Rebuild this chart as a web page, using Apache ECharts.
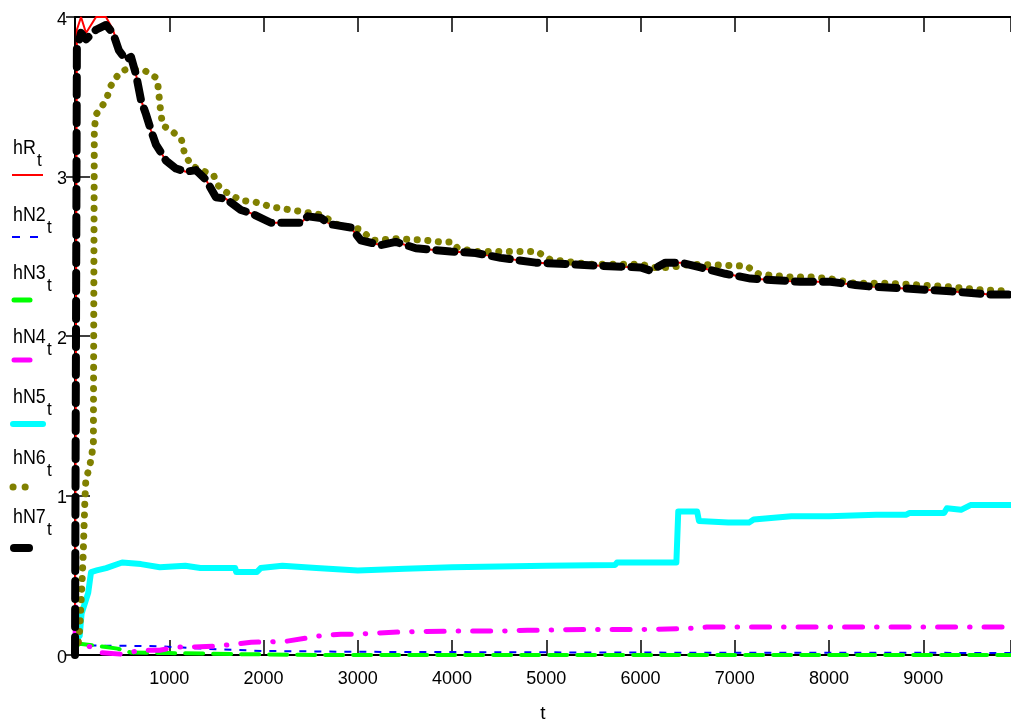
<!DOCTYPE html>
<html>
<head>
<meta charset="utf-8">
<script src="https://cdn.jsdelivr.net/npm/echarts@6/dist/echarts.min.js"></script>
<style>
  html, body { margin: 0; padding: 0; background: #fff; }
  #main { width: 1011px; height: 722px; }
</style>
</head>
<body>
<div id="main"></div>
<script>
// time points shared by hR and hN7
var tMain = [0, 20, 64, 117, 223, 329, 403, 466, 541, 594, 647, 700, 753, 806, 859, 965, 1071, 1177, 1283, 1389,
  1495, 1601, 1760, 1866, 2078, 2396, 2470, 2608, 2714, 2926, 3032, 3244, 3403, 3615, 3986, 4251, 4516, 4887, 5258, 5576,
  6000, 6106, 6265, 6424, 6636, 6901, 7166, 7431, 7696, 8014, 8279, 8438, 8756, 9286, 9710, 9930];
var hR = [0, 3.92, 4.0, 3.9, 4.0, 4.0, 3.92, 3.8, 3.74, 3.75, 3.64, 3.48, 3.39, 3.29, 3.2, 3.1, 3.05, 3.03, 3.04, 2.98,
  2.87, 2.86, 2.79, 2.77, 2.71, 2.71, 2.75, 2.74, 2.70, 2.68, 2.60, 2.57, 2.59, 2.55, 2.53, 2.52, 2.49, 2.46, 2.45, 2.44,
  2.43, 2.41, 2.46, 2.46, 2.43, 2.39, 2.36, 2.35, 2.34, 2.34, 2.32, 2.31, 2.30, 2.28, 2.26, 2.26];
var hN7 = [0, 3.8, 3.9, 3.86, 3.92, 3.95, 3.9, 3.79, 3.73, 3.75, 3.64, 3.48, 3.39, 3.29, 3.2, 3.1, 3.05, 3.03, 3.04, 2.98,
  2.87, 2.86, 2.79, 2.77, 2.71, 2.71, 2.75, 2.74, 2.70, 2.68, 2.60, 2.57, 2.59, 2.55, 2.53, 2.52, 2.49, 2.46, 2.45, 2.44,
  2.43, 2.41, 2.46, 2.46, 2.43, 2.39, 2.36, 2.35, 2.34, 2.34, 2.32, 2.31, 2.30, 2.28, 2.26, 2.26];

var t2 = [0, 40, 100, 900, 1350, 2000, 3000, 6000, 9930];
var hN2 = [0.06, 0.07, 0.06, 0.055, 0.04, 0.025, 0.02, 0.015, 0.013];

var t3 = [0, 50, 200, 330, 450, 600, 1000, 1800, 2600, 9930];
var hN3 = [0.05, 0.07, 0.06, 0.05, 0.04, 0.015, 0.012, 0.005, 0.0, 0.0];

var t4 = [0, 10, 40, 110, 170, 220, 280, 490, 700, 900, 1070, 1230, 1490, 1870, 2230, 2500, 2600, 2820, 2950, 3470,
  4000, 4500, 4800, 5500, 6000, 6470, 6600, 6700, 9930];
var hN4 = [0.1, 0.3, 0.08, 0.06, 0.05, 0.03, 0.015, 0.005, 0.03, 0.03, 0.05, 0.05, 0.055, 0.08, 0.085, 0.11, 0.12, 0.13, 0.13, 0.145,
  0.15, 0.15, 0.155, 0.16, 0.16, 0.165, 0.17, 0.175, 0.175];

var t5 = [0, 20, 50, 70, 140, 170, 230, 330, 500, 700, 900, 1170, 1330, 1700, 1710, 1930, 1970, 2200, 2560, 3000,
  3500, 4000, 5000, 5730, 5750, 6380, 6400, 6600, 6620, 6930, 7150, 7200, 7600, 8000, 8500, 8820, 8850, 9220, 9250, 9400,
  9500, 9930];
var hN5 = [0.08, 0.1, 0.12, 0.26, 0.39, 0.52, 0.53, 0.545, 0.58, 0.57, 0.55, 0.56, 0.545, 0.545, 0.52, 0.52, 0.545, 0.56, 0.545, 0.53,
  0.54, 0.55, 0.56, 0.565, 0.58, 0.58, 0.90, 0.90, 0.84, 0.83, 0.83, 0.85, 0.87, 0.87, 0.88, 0.88, 0.89, 0.89, 0.92, 0.91,
  0.94, 0.94];

var t6 = [0, 30, 50, 70, 85, 105, 115, 150, 175, 195, 205, 225, 275, 330, 382, 435, 490, 540, 650, 750,
  860, 880, 910, 930, 1020, 1130, 1160, 1230, 1335, 1470, 1500, 1550, 1760, 1910, 2080, 2400, 2610, 2780, 2930, 3020,
  3160, 3400, 3720, 3870, 4000, 4060, 4250, 4900, 5040, 5460, 6000, 6150, 6320, 6530, 7060, 7120, 7250, 7380, 7590, 7800,
  8000, 8280, 8650, 9240, 9600, 9930];
var hN6 = [0.02, 0.05, 0.16, 0.4, 0.6, 0.97, 1.1, 1.17, 1.24, 1.33, 3.3, 3.39, 3.43, 3.48, 3.57, 3.62, 3.66, 3.67, 3.67, 3.66,
  3.62, 3.57, 3.4, 3.32, 3.29, 3.23, 3.15, 3.07, 3.04, 3.01, 2.96, 2.92, 2.85, 2.84, 2.81, 2.78, 2.76, 2.70, 2.68, 2.67,
  2.60, 2.61, 2.60, 2.59, 2.59, 2.55, 2.53, 2.53, 2.48, 2.45, 2.45, 2.43, 2.43, 2.45, 2.44, 2.44, 2.39, 2.38, 2.37, 2.37,
  2.36, 2.33, 2.33, 2.31, 2.29, 2.28];

var yTicks = [0, 1, 2, 3, 4];
var xMax = 9930;

var FONT = "'Liberation Sans Narrow', 'Liberation Sans', Arial, sans-serif";

function zip(ts, vs) {
  var out = [];
  for (var i = 0; i < ts.length; i++) out.push([ts[i], vs[i]]);
  return out;
}

function line(name, ts, vs, lineStyle) {
  return {
    name: name,
    type: 'line',
    xAxisIndex: 0,
    yAxisIndex: 0,
    showSymbol: false,
    symbol: 'none',
    animation: false,
    clip: true,
    lineStyle: lineStyle,
    data: zip(ts, vs)
  };
}

// legend (Mathcad style: name above, line sample below)
var legendItems = [
  { main: 'hR', top: 138, subX: 37, swatch: { y: 175, x1: 12, x2: 43, color: '#ff0000', width: 2 } },
  { main: 'hN2', top: 205, subX: 47, swatch: { y: 237, x1: 12, x2: 38, color: '#0000ff', width: 2, dash: [8, 10] } },
  { main: 'hN3', top: 263, subX: 47, swatch: { y: 300, x1: 14, x2: 30, color: '#00ff00', width: 5, cap: 'round' } },
  { main: 'hN4', top: 327, subX: 47, swatch: { y: 360, x1: 14, x2: 30, color: '#ff00ff', width: 5, cap: 'round' } },
  { main: 'hN5', top: 387, subX: 47, swatch: { y: 424, x1: 13, x2: 43, color: '#00ffff', width: 6, cap: 'round' } },
  { main: 'hN6', top: 448, subX: 47, swatch: { y: 487, x1: 13, x2: 37, color: '#808000', width: 7, cap: 'round', dash: [0.1, 12] } },
  { main: 'hN7', top: 507, subX: 47, swatch: { y: 548, x1: 14, x2: 29, color: '#000000', width: 8, cap: 'round' } }
];

var graphics = [];
legendItems.forEach(function (it) {
  graphics.push({
    type: 'text', x: 13, y: it.top, scaleX: 0.85, silent: true,
    style: { text: it.main, font: '21px ' + FONT, fill: '#000', textVerticalAlign: 'top', verticalAlign: 'top' }
  });
  graphics.push({
    type: 'text', x: it.subX, y: it.top + 13, scaleX: 0.9, silent: true,
    style: { text: 't', font: '19px ' + FONT, fill: '#000', textVerticalAlign: 'top', verticalAlign: 'top' }
  });
  var s = it.swatch;
  graphics.push({
    type: 'line', silent: true,
    shape: { x1: s.x1, y1: s.y, x2: s.x2, y2: s.y },
    style: { stroke: s.color, lineWidth: s.width, lineCap: s.cap || 'butt', lineDash: s.dash || null }
  });
});

var chart = echarts.init(document.getElementById('main'), null, { renderer: 'canvas' });

var option = {
  backgroundColor: '#ffffff',
  animation: false,
  grid: { left: 75, right: 0, top: 17, bottom: 67, containLabel: false, outerBoundsMode: 'none' },
  xAxis: [{
    type: 'value', position: 'bottom', min: 0, max: xMax, interval: 1000,
    axisLine: { show: true, onZero: false, lineStyle: { color: '#000', width: 2 } },
    axisTick: { show: true, inside: true, length: 15, lineStyle: { color: '#000', width: 1.5 } },
    axisLabel: {
      color: '#000', fontSize: 18, fontFamily: FONT, margin: 15,
      formatter: function (v) { return (v > 0 && v % 1000 === 0) ? String(v) : ''; }
    },
    splitLine: { show: false },
    name: 't', nameLocation: 'middle', nameGap: 49,
    nameTextStyle: { color: '#000', fontSize: 19, fontFamily: FONT }
  }, {
    type: 'value', position: 'top', min: 0, max: xMax, interval: 1000,
    axisLine: { show: true, onZero: false, lineStyle: { color: '#000', width: 2 } },
    axisTick: { show: true, inside: true, length: 15, lineStyle: { color: '#000', width: 1.5 } },
    axisLabel: { show: false },
    splitLine: { show: false }
  }],
  yAxis: [{
    type: 'value', position: 'left', min: yTicks[0], max: yTicks[yTicks.length - 1], interval: 1,
    axisLine: { show: true, onZero: false, lineStyle: { color: '#000', width: 2 } },
    axisTick: { show: true, inside: true, length: 15, lineStyle: { color: '#000', width: 1.5 } },
    axisLabel: { color: '#000', fontSize: 18, fontFamily: FONT, margin: 8, verticalAlign: 'top', lineHeight: 6 },
    splitLine: { show: false }
  }, {
    type: 'value', position: 'right', min: yTicks[0], max: yTicks[yTicks.length - 1], interval: 1,
    axisLine: { show: false },
    axisTick: { show: true, inside: true, length: 9, lineStyle: { color: '#000', width: 1.5 } },
    axisLabel: { show: false },
    splitLine: { show: false }
  }],
  graphic: graphics,
  series: [
    line('hR', tMain, hR, { color: '#ff0000', width: 2 }),
    line('hN2', t2, hN2, { color: '#0000ff', width: 2, type: [7, 8] }),
    line('hN3', t3, hN3, { color: '#00ff00', width: 4, type: [18, 10], cap: 'round' }),
    line('hN4', t4, hN4, { color: '#ff00ff', width: 5, type: [18, 14, 0.5, 14], cap: 'round' }),
    line('hN5', t5, hN5, { color: '#00ffff', width: 6, join: 'round' }),
    line('hN6', t6, hN6, { color: '#808000', width: 7, type: [0.1, 10.5], cap: 'round' }),
    line('hN7', tMain, hN7, { color: '#000000', width: 8, type: [18, 10], cap: 'round', join: 'round' })
  ]
};

chart.setOption(option);
</script>
</body>
</html>
